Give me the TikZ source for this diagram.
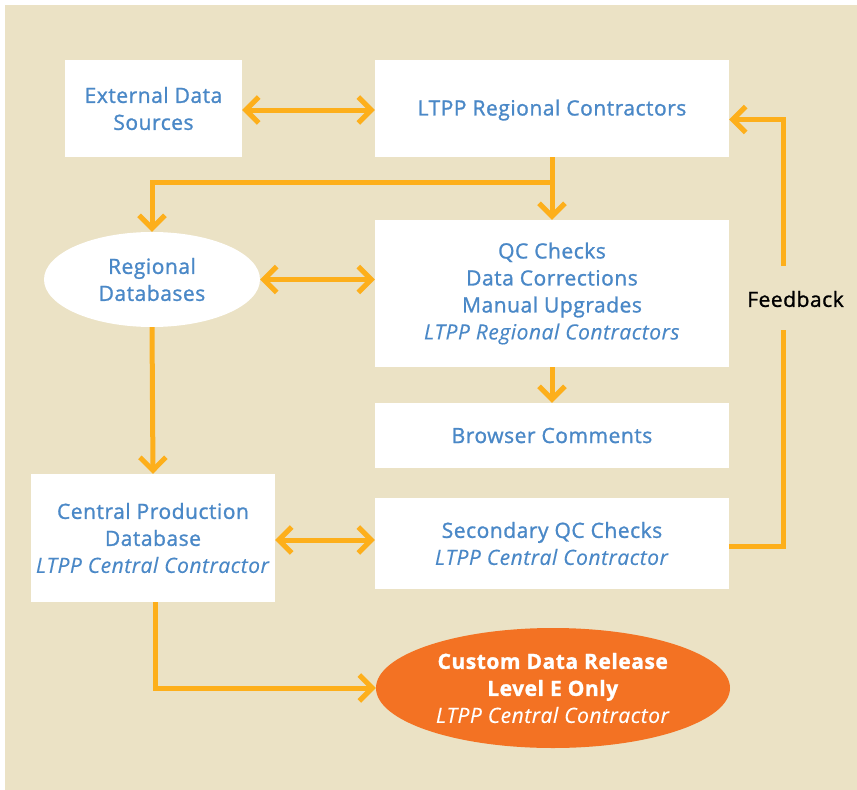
\documentclass[tikz,border=0pt]{standalone}
\usepackage{fontspec}
\setmainfont{Open Sans}[FakeBold=1.2,LetterSpace=2.5,ItalicFeatures={FakeBold=0.2}]
\usetikzlibrary{shapes.geometric,arrows.meta,positioning,calc}
\definecolor{beige}{HTML}{EBE2C5}
\definecolor{textblue}{HTML}{4A88C7}
\definecolor{arrowgold}{HTML}{FDAF1B}
\definecolor{release}{HTML}{F37223}
\tikzset{
    % Boxes
    infobox/.style={
        rectangle,
        fill=white,
        draw=none,
        inner sep=0pt,
        align=center,
        text=textblue,
        font=\fontsize{21}{27}\selectfont
    },
    infoellipse/.style={
        ellipse,
        fill=white,
        draw=none,
        inner sep=0pt,
        align=center,
        text=textblue,
        font=\fontsize{21}{27}\selectfont
    },
    releaseellipse/.style={
        infoellipse,
        fill=release,
        text=white
    },
    % Arrows
    flow/.style={
        -{Straight Barb[length=13pt,width=26pt]},
        line width=5pt,
        draw=arrowgold
    },
    twoway/.style={
        flow,
        {Straight Barb[length=13pt,width=26pt]}-{Straight Barb[length=13pt,width=26pt]}
    },
    plainline/.style={
        line width=5pt,
        draw=arrowgold
    }
}
\begin{document}
\begin{tikzpicture}[x=1pt,y=-1pt]

    % Canvas
    \useasboundingbox (0,0) rectangle (857,790);
    \fill[beige] (5,5) rectangle (857,790);

    % Boxes
    \node[infobox, minimum width=177pt, minimum height=97pt] (ext) at (153.5,108.5) {External Data\\Sources};
    \node[infobox, minimum width=354pt, minimum height=97pt, text depth=2pt] (ltpp) at (552,108.5) {LTPP Regional Contractors};
    \node[infoellipse, minimum width=216pt, minimum height=95pt] (rdb) at (152,279.5) {Regional\\Databases};
    \node[infobox, minimum width=354pt, minimum height=147pt] (qc) at (552,293.5) {QC Checks\\Data Corrections\\Manual Upgrades\\\textit{LTPP Regional Contractors}};
    \node[infobox, minimum width=354pt, minimum height=65pt] (bc) at (552,435.5) {Browser Comments};
    \node[infobox, minimum width=244pt, minimum height=128pt] (cpd) at (153,538) {Central Production\\Database\\\textit{LTPP Central Contractor}};
    \node[infobox, minimum width=354pt, minimum height=91pt] (sqc) at (552,543.5) {Secondary QC Checks\\\textit{LTPP Central Contractor}};
    \node[releaseellipse, minimum width=354pt, minimum height=120pt] (cdr) at (553,688) {\textbf{Custom Data Release}\\\textbf{Level E Only}\\\textit{LTPP Central Contractor}};

    % Feedback label
    \node[font=\fontsize{21}{27}\selectfont, text=black] (fb) at (795.5,299) {Feedback};
    \coordinate (fbbot) at (783,330);
    \coordinate (fbtop) at (783,266);

    % Arrows
    \draw[twoway] ([yshift=-1.5pt]ext.east) -- ([yshift=-1.5pt]ext.east -| ltpp.west);
    \draw[flow] (ltpp.south) -- (qc.north);
    \draw[flow] ($(ltpp.south)!0.4!(qc.north)$) -| (rdb.north);
    \draw[twoway] (rdb.east) -- (rdb.east -| qc.west);
    \draw[flow] (qc.south) -- (bc.north);
    \draw[flow] (rdb.south) -- (cpd.north);
    \draw[twoway] ([yshift=-2pt]cpd.east) -- ([yshift=-2pt]cpd.east -| sqc.west);
    \draw[flow] ([xshift=2pt]cpd.south) |- (cdr.west);

    % Feedback loop
    \draw[plainline] ([yshift=-3pt]sqc.east) -| (fbbot);
    \draw[flow] (fbtop) |- ([yshift=-11pt]ltpp.east);

\end{tikzpicture}
\end{document}
